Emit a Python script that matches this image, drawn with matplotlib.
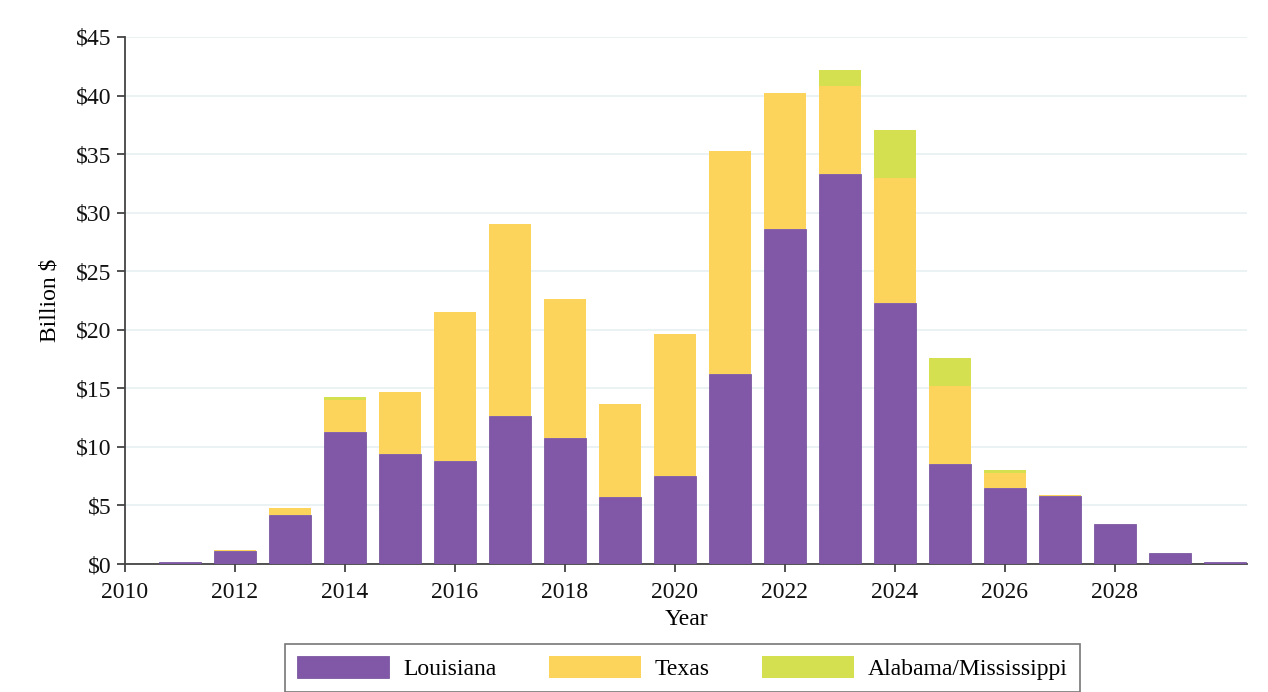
import numpy as np
import matplotlib
matplotlib.use("Agg")
from matplotlib import pyplot as plt
from matplotlib.ticker import FuncFormatter, MultipleLocator

plt.rcParams['font.family'] = ['Liberation Serif', 'DejaVu Serif']

years = np.arange(2011, 2031)
louisiana = [0.2, 1.1, 4.2, 11.3, 9.4, 8.8, 12.6, 10.8, 5.7, 7.5,
             16.2, 28.6, 33.3, 22.3, 8.5, 6.5, 5.8, 3.4, 0.9, 0.2]
texas = [0.0, 0.1, 0.6, 2.7, 5.3, 12.7, 16.4, 11.8, 8.0, 12.1,
         19.1, 11.6, 7.5, 10.7, 6.7, 1.3, 0.1, 0.0, 0.0, 0.0]
alabama_ms = [0.0, 0.0, 0.0, 0.3, 0.0, 0.0, 0.0, 0.0, 0.0, 0.0,
              0.0, 0.0, 1.4, 4.1, 2.4, 0.2, 0.0, 0.0, 0.0, 0.0]

purple = '#8157a8'
yellow = '#fcd35b'
green = '#d4e04f'

fig = plt.figure(figsize=(12.68, 6.92), dpi=100)
ax = fig.add_axes([125 / 1268, 1 - 564 / 692, (1247 - 125) / 1268, (564 - 37) / 692])

louisiana = np.array(louisiana)
texas = np.array(texas)
alabama_ms = np.array(alabama_ms)

w = 0.76
ax.bar(years, louisiana, w, color=purple, edgecolor='#6e4796', linewidth=0.5,
       label='Louisiana', zorder=3)
ax.bar(years, texas, w, bottom=louisiana, color=yellow, linewidth=0,
       label='Texas', zorder=3)
ax.bar(years, alabama_ms, w, bottom=louisiana + texas, color=green,
       linewidth=0, label='Alabama/Mississippi', zorder=3)

ax.set_xlim(2010, 2030.4)
ax.set_ylim(0, 45)
ax.yaxis.set_major_locator(MultipleLocator(5))
ax.yaxis.set_major_formatter(FuncFormatter(lambda v, p: r'\$%d' % v))
ax.set_xticks(np.arange(2010, 2029, 2))

ax.grid(axis='y', color='#e6f0f2', linewidth=1.2, zorder=0)
ax.set_axisbelow(True)
for s in ['top', 'right']:
    ax.spines[s].set_visible(False)
for s in ['left', 'bottom']:
    ax.spines[s].set_color('#444444')
    ax.spines[s].set_linewidth(1.3)
ax.tick_params(axis='both', labelsize=17, length=6, width=1.3, color='#444444',
               labelcolor='#111111')
ax.tick_params(axis='x', pad=7)
ax.tick_params(axis='y', pad=4)

ax.set_xlabel('Year', fontsize=17, labelpad=4)
ax.set_ylabel('Billion $', fontsize=17, labelpad=11)

leg = ax.legend(loc='upper center', bbox_to_anchor=(0.497, -0.152), ncol=3,
                fontsize=17, frameon=True, fancybox=False, edgecolor='#555555',
                handlelength=3.9, handleheight=1.05, columnspacing=2.2,
                handletextpad=0.6, borderpad=0.5, borderaxespad=0)
leg.get_frame().set_linewidth(1.2)

fig.savefig('out.png', dpi=100)
